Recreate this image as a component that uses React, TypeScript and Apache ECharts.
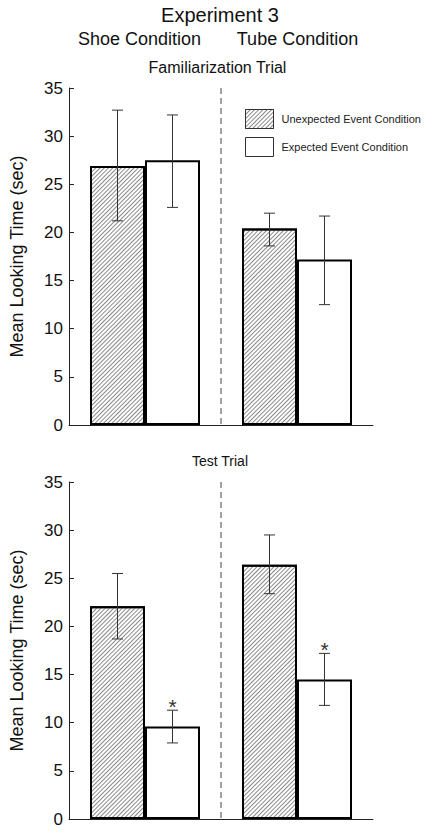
import React, { useEffect, useRef } from "react";
import * as echarts from "echarts";

const categories = ["Shoe Condition", "Tube Condition"];
const seriesNames = ["Unexpected Event Condition", "Expected Event Condition"];

// Familiarization trial
const famUnexpected = [26.9, 20.4];
const famUnexpectedLow = [21.2, 18.6];
const famUnexpectedHigh = [32.7, 22.0];
const famExpected = [27.5, 17.2];
const famExpectedLow = [22.6, 12.5];
const famExpectedHigh = [32.2, 21.7];

// Test trial
const testUnexpected = [22.1, 26.4];
const testUnexpectedLow = [18.7, 23.4];
const testUnexpectedHigh = [25.5, 29.5];
const testExpected = [9.6, 14.5];
const testExpectedLow = [7.9, 11.8];
const testExpectedHigh = [11.3, 17.2];
const testExpectedSignificant = [true, true];

const yTicks = [0, 5, 10, 15, 20, 25, 30, 35];

const FONT = "Liberation Sans, Arial, Helvetica, sans-serif";
const BAR_W = 55;
const GRID_LEFT = 69;
const GRID_W = 304;
const GRID_H = 337;
const GRID_TOPS = [88, 482];

const hatch = {
  symbol: "rect",
  symbolSize: 1,
  color: "#8a8a8a",
  dashArrayX: [1, 0],
  dashArrayY: [1, 1.9],
  rotation: -Math.PI / 4,
};

function barSeries(name: string, axis: number, data: number[], hatched: boolean) {
  return {
    type: "bar",
    name,
    xAxisIndex: axis,
    yAxisIndex: axis,
    data,
    barWidth: BAR_W,
    barGap: "0%",
    itemStyle: {
      color: "#ffffff",
      borderColor: "#000000",
      borderWidth: 2,
      decal: hatched ? hatch : "none",
    },
    emphasis: { disabled: true },
    z: 2,
  };
}

function errSeries(
  axis: number,
  lows: number[],
  highs: number[],
  side: number,
  sig: boolean[] | null
) {
  return {
    type: "custom",
    xAxisIndex: axis,
    yAxisIndex: axis,
    data: lows.map((l, i) => [i, l, highs[i], sig && sig[i] ? 1 : 0]),
    z: 5,
    silent: true,
    renderItem: (params: any, api: any) => {
      const idx = api.value(0);
      const lo = api.coord([idx, api.value(1)]);
      const hi = api.coord([idx, api.value(2)]);
      const x = lo[0] + (side * BAR_W) / 2;
      const cap = 5.5;
      const stroke = { stroke: "#333", lineWidth: 1 };
      const children: any[] = [
        { type: "line", shape: { x1: x, y1: lo[1], x2: x, y2: hi[1] }, style: stroke },
        { type: "line", shape: { x1: x - cap, y1: lo[1], x2: x + cap, y2: lo[1] }, style: stroke },
        { type: "line", shape: { x1: x - cap, y1: hi[1], x2: x + cap, y2: hi[1] }, style: stroke },
      ];
      if (api.value(3)) {
        children.push({
          type: "text",
          style: {
            text: "*",
            x,
            y: hi[1] - 3.5,
            align: "center",
            verticalAlign: "middle",
            fontSize: 21,
            fontFamily: FONT,
            fill: "#333",
          },
        });
      }
      return { type: "group", children };
    },
  };
}

export default function App() {
  const ref = useRef<HTMLDivElement>(null);
  useEffect(() => {
    if (!ref.current) return;
    const chart = echarts.init(ref.current, null, { renderer: "svg" });
    const grids = GRID_TOPS.map((top) => ({
      left: GRID_LEFT,
      top,
      width: GRID_W,
      height: GRID_H,
      containLabel: false,
    }));
    const xAxes = GRID_TOPS.map((_, i) => ({
      type: "category",
      gridIndex: i,
      data: categories,
      axisLine: { show: true, lineStyle: { color: "#222", width: 1 } },
      axisTick: { show: false },
      axisLabel: { show: false },
      splitLine: { show: false },
    }));
    const yAxes = GRID_TOPS.map((_, i) => ({
      type: "value",
      gridIndex: i,
      min: yTicks[0],
      max: yTicks[yTicks.length - 1],
      interval: 5,
      name: "Mean Looking Time (sec)",
      nameLocation: "middle",
      nameGap: 43,
      nameTextStyle: { fontSize: 18, color: "#111", fontFamily: FONT },
      axisLine: { show: true, lineStyle: { color: "#222", width: 1 } },
      axisTick: { show: true, inside: true, length: 5, lineStyle: { color: "#222" } },
      axisLabel: { fontSize: 17, color: "#111", margin: 6, fontFamily: FONT },
      splitLine: { show: false },
    }));

    const dashX = GRID_LEFT + GRID_W / 2;
    const dashed = GRID_TOPS.map((top) => ({
      type: "line",
      shape: { x1: dashX, y1: top, x2: dashX, y2: top + GRID_H },
      style: { stroke: "#444", lineWidth: 1, lineDash: [6, 4] },
      z: 1,
    }));

    const txt = (text: string, x: number, y: number, size: number) => ({
      type: "text",
      x,
      y,
      style: {
        text,
        fontSize: size,
        fontFamily: FONT,
        fill: "#111",
        align: "center",
        verticalAlign: "middle",
      },
    });

    chart.setOption({
      animation: false,
      backgroundColor: "#ffffff",
      aria: { enabled: false, decal: { show: false } },
      grid: grids,
      xAxis: xAxes,
      yAxis: yAxes,
      legend: {
        show: true,
        orient: "vertical",
        left: 240,
        top: 104,
        itemWidth: 28,
        itemHeight: 19,
        itemGap: 8,
        icon: "rect",
        data: seriesNames,
        selectedMode: false,
        itemStyle: { borderWidth: 1, borderColor: "#333" },
        textStyle: { fontSize: 11, color: "#222", fontFamily: FONT, padding: [0, 0, 0, 3] },
      },
      graphic: [
        txt("Experiment 3", 220, 15, 20),
        txt(categories[0], 139.5, 39, 18),
        txt(categories[1], 297.5, 39, 18),
        txt("Familiarization Trial", 217.5, 67.5, 16),
        txt("Test Trial", 220, 461, 14),
        ...dashed,
      ],
      series: [
        barSeries(seriesNames[0], 0, famUnexpected, true),
        barSeries(seriesNames[1], 0, famExpected, false),
        barSeries(seriesNames[0], 1, testUnexpected, true),
        barSeries(seriesNames[1], 1, testExpected, false),
        errSeries(0, famUnexpectedLow, famUnexpectedHigh, -1, null),
        errSeries(0, famExpectedLow, famExpectedHigh, 1, null),
        errSeries(1, testUnexpectedLow, testUnexpectedHigh, -1, null),
        errSeries(1, testExpectedLow, testExpectedHigh, 1, testExpectedSignificant),
      ],
    });
    return () => chart.dispose();
  }, []);
  return (
    <div
      ref={ref}
      style={{ position: "fixed", left: 0, top: 0, width: 426, height: 832, background: "#fff" }}
    />
  );
}
